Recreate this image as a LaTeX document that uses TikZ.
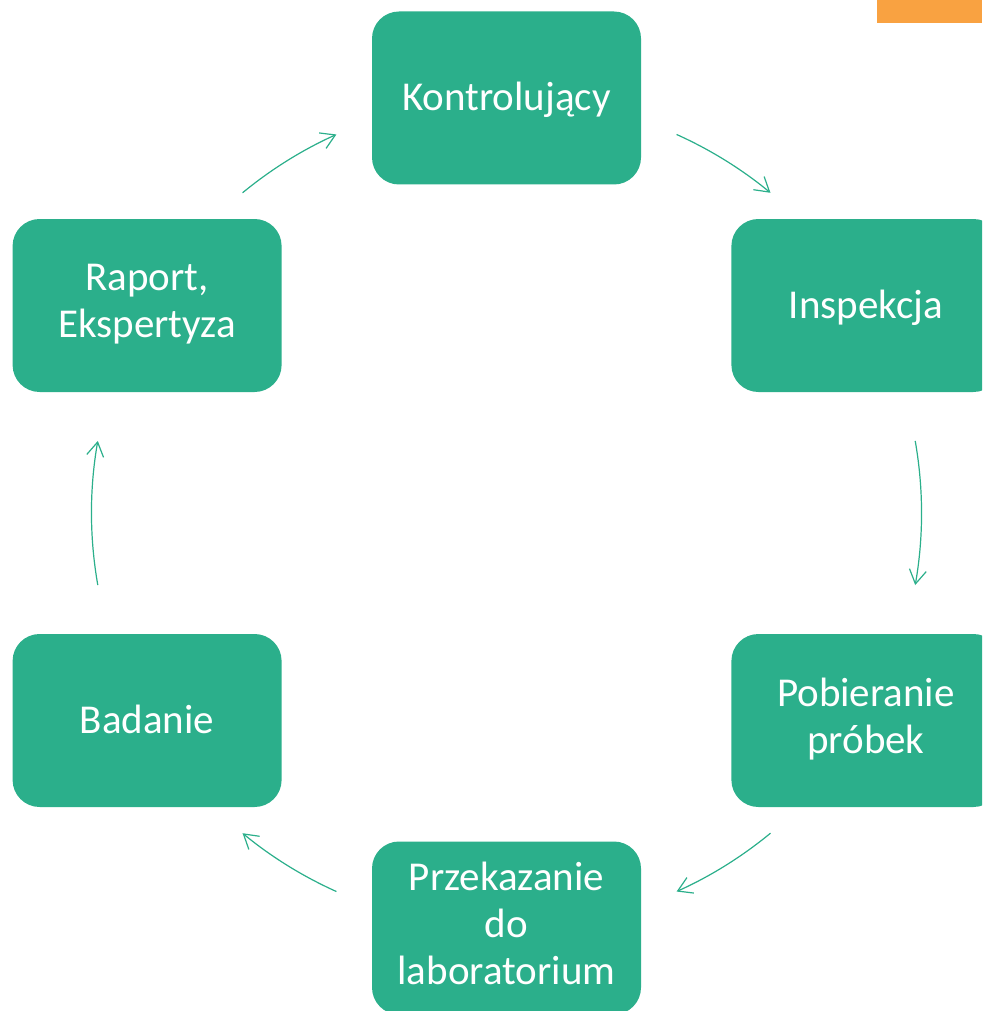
\documentclass[tikz,border=0pt]{standalone}
\usepackage{fontspec}
\setmainfont{Carlito}
\usetikzlibrary{calc,arrows.meta}
\definecolor{boxgreen}{HTML}{2BAF8B}
\definecolor{toporange}{HTML}{F9A241}
\begin{document}
\begin{tikzpicture}[x=1pt,y=1pt,
  stage/.style={fill=boxgreen, draw=none, rounded corners=27pt,
    minimum width=269pt, minimum height=173pt, inner sep=0pt,
    text=white, align=center, font=\fontsize{41}{47}\selectfont,
    execute at begin node={\rule{0pt}{35pt}},
    execute at end node={\rule[-10pt]{0pt}{10pt}}},
  conn/.style={draw=boxgreen, line width=1.2pt,
    -{Straight Barb[length=14pt,width=17pt,line width=1.2pt]}}]
\useasboundingbox (0,0) rectangle (982,-1011);
\clip (0,0) rectangle (982,-1011);
\fill[toporange] (877,0) rectangle (982,-23);
\coordinate (C) at (506.5,-513);
\node[stage] (k) at ($(C)+(90:415)$) {Kontrolujący};
\node[stage] (i) at ($(C)+(30:415)$) {Inspekcja};
\node[stage] (p) at ($(C)+(-30:415)$) {Pobieranie\\próbek};
\node[stage] (l) at ($(C)+(-90:415)$) {Przekazanie\\do\\laboratorium};
\node[stage] (b) at ($(C)+(-150:415)$) {Badanie};
\node[stage] (r) at ($(C)+(150:415)$) {Raport,\\Ekspertyza};
\coordinate (a1) at ($(C)+(65.8:415)$);
\coordinate (a2) at ($(C)+(10:415)$);
\coordinate (a3) at ($(C)+(-50.5:415)$);
\coordinate (a4) at ($(C)+(-114.2:415)$);
\coordinate (a5) at ($(C)+(-170:415)$);
\coordinate (a6) at ($(C)+(129.5:415)$);
\draw[conn] (a1) arc[start angle=65.8, end angle=50.5, radius=415];
\draw[conn] (a2) arc[start angle=10, end angle=-10, radius=415];
\draw[conn] (a3) arc[start angle=-50.5, end angle=-65.8, radius=415];
\draw[conn] (a4) arc[start angle=-114.2, end angle=-129.5, radius=415];
\draw[conn] (a5) arc[start angle=-170, end angle=-190, radius=415];
\draw[conn] (a6) arc[start angle=129.5, end angle=114.2, radius=415];
\end{tikzpicture}
\end{document}
